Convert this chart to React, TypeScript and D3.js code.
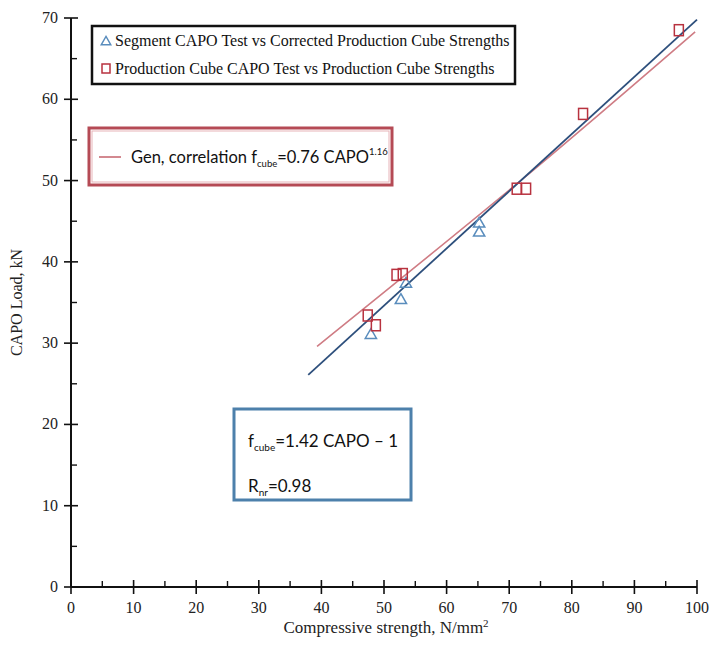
import React from 'react';
import * as d3 from 'd3';

// Segment CAPO test vs corrected production cube strengths (triangles)
const segmentX = [47.9, 52.7, 53.5, 65.2, 65.2];
const segmentY = [31.1, 35.4, 37.4, 44.8, 43.7];

// Production cube CAPO test vs production cube strengths (squares)
const cubeX = [47.4, 48.7, 52.0, 53.0, 71.2, 72.7, 81.8, 97.1];
const cubeY = [33.4, 32.2, 38.4, 38.5, 49.0, 49.0, 58.2, 68.5];

// linear fit f_cube = 1.42 CAPO - 1
const linearX = [37.9, 100];
const linearY = [26.1, 69.8];

// general power correlation
const powerX = [39.3, 72, 99.7];
const powerY = [29.6, 50.1, 68.3];

const xTicks = [0, 10, 20, 30, 40, 50, 60, 70, 80, 90, 100];
const yTicks = [0, 10, 20, 30, 40, 50, 60, 70];

const legendLabels = [
  'Segment CAPO Test vs Corrected Production Cube Strengths',
  'Production Cube CAPO Test vs Production Cube Strengths',
];

const W = 713, H = 657;
const left = 71, right = 697, top = 18, bottom = 587;

const serif = "'Liberation Serif', 'DejaVu Serif', serif";
const sans = "Lato, 'Open Sans', sans-serif";

const blueLine = '#2d4f7c';
const redLine = '#cf7c84';
const blueMark = '#5a8dbd';
const redMark = '#b8323f';

export default function App() {
  const x = d3.scaleLinear().domain([0, 100]).range([left, right]);
  const y = d3.scaleLinear().domain([0, 70]).range([bottom, top]);

  const line = d3.line<[number, number]>()
    .x(d => x(d[0]))
    .y(d => y(d[1]));
  const powerLine = d3.line<[number, number]>()
    .x(d => x(d[0]))
    .y(d => y(d[1]))
    .curve(d3.curveNatural);

  const linPts = linearX.map((v, i) => [v, linearY[i]] as [number, number]);
  const powPts = powerX.map((v, i) => [v, powerY[i]] as [number, number]);

  const minorX = d3.range(5, 100, 10);
  const minorY = d3.range(5, 70, 10);

  const tri = d3.symbol().type(d3.symbolTriangle).size(55);

  return (
    <div style={{ position: 'absolute', left: 0, top: 0 }}>
      <svg width={W} height={H} style={{ display: 'block', background: '#fff' }}>
        {/* fitted lines */}
        <path d={powerLine(powPts) || ''} fill="none" stroke={redLine} strokeWidth={1.6} />
        <path d={line(linPts) || ''} fill="none" stroke={blueLine} strokeWidth={1.8} />

        {/* markers */}
        {segmentX.map((v, i) => (
          <path key={'t' + i} d={tri() || ''} transform={`translate(${x(v)},${y(segmentY[i]) + 1})`}
            fill="none" stroke={blueMark} strokeWidth={1.5} />
        ))}
        {cubeX.map((v, i) => (
          <rect key={'s' + i} x={x(v) - 4.5} y={y(cubeY[i]) - 5.5} width={9} height={11}
            fill="none" stroke={redMark} strokeWidth={1.5} />
        ))}

        {/* axes */}
        <line x1={left} x2={right} y1={bottom} y2={bottom} stroke="#111" strokeWidth={2} />
        <line x1={left} x2={left} y1={bottom} y2={top} stroke="#111" strokeWidth={2} />
        {xTicks.map(t => (
          <g key={'xt' + t}>
            <line x1={x(t)} x2={x(t)} y1={bottom - 7} y2={bottom + 7} stroke="#111" strokeWidth={1.6} />
            <text x={x(t)} y={bottom + 26} textAnchor="middle" fontFamily={serif} fontSize={16} fill="#222">{t}</text>
          </g>
        ))}
        {minorX.map(t => (
          <line key={'xm' + t} x1={x(t)} x2={x(t)} y1={bottom - 6} y2={bottom} stroke="#111" strokeWidth={1.4} />
        ))}
        {yTicks.map(t => (
          <g key={'yt' + t}>
            <line x1={left - 7} x2={left + 7} y1={y(t)} y2={y(t)} stroke="#111" strokeWidth={1.6} />
            <text x={left - 13} y={y(t) + 5} textAnchor="end" fontFamily={serif} fontSize={16} fill="#222">{t}</text>
          </g>
        ))}
        {minorY.map(t => (
          <line key={'ym' + t} x1={left} x2={left + 6} y1={y(t)} y2={y(t)} stroke="#111" strokeWidth={1.4} />
        ))}

        {/* axis titles */}
        <text x={(left + right) / 2 + 2} y={633} textAnchor="middle" fontFamily={serif} fontSize={17} fill="#222">
          Compressive strength, N/mm<tspan dy={-6} fontSize={11}>2</tspan>
        </text>
        <text transform={`translate(22,${(top + bottom) / 2}) rotate(-90)`} textAnchor="middle"
          fontFamily={serif} fontSize={16} fill="#222">CAPO Load, kN</text>

        {/* series legend */}
        <rect x={92} y={26} width={423} height={58} fill="#fff" stroke="#111" strokeWidth={2.5} />
        <path d={tri.size(40)() || ''} transform="translate(106,42)" fill="none" stroke={blueMark} strokeWidth={1.4} />
        <text x={115} y={46} fontFamily={serif} fontSize={16} fill="#111">{legendLabels[0]}</text>
        <rect x={102} y={64} width={8} height={9} fill="none" stroke={redMark} strokeWidth={1.5} />
        <text x={115} y={74} fontFamily={serif} fontSize={16} fill="#111">{legendLabels[1]}</text>

        {/* correlation box */}
        <rect x={89} y={128} width={303} height={57} fill="#fff" stroke="#b54a55" strokeWidth={3} />
        <rect x={92} y={131} width={297} height={51} fill="none" stroke="#e7b3b8" strokeWidth={1} />
        <line x1={99} x2={121} y1={157} y2={157} stroke={redLine} strokeWidth={1.8} />
        <text x={131} y={163} fontFamily={sans} fontSize={16.5} fill="#111">
          Gen, correlation f<tspan dy={4} fontSize={9.5}>cube</tspan>
          <tspan dy={-4}>=0.76 CAPO</tspan><tspan dy={-8} fontSize={9.5}>1.16</tspan>
        </text>

        {/* linear fit box */}
        <rect x={234} y={409} width={177} height={91} fill="#fff" stroke="#4d80ab" strokeWidth={3} />
        <text x={248} y={447} fontFamily={sans} fontSize={17} fill="#111">
          f<tspan dy={4} fontSize={10}>cube</tspan><tspan dy={-4}>=1.42 CAPO – 1</tspan>
        </text>
        <text x={248} y={492} fontFamily={sans} fontSize={17} fill="#111">
          R<tspan dy={4} fontSize={10}>nr</tspan><tspan dy={-4}>=0.98</tspan>
        </text>
      </svg>
    </div>
  );
}
